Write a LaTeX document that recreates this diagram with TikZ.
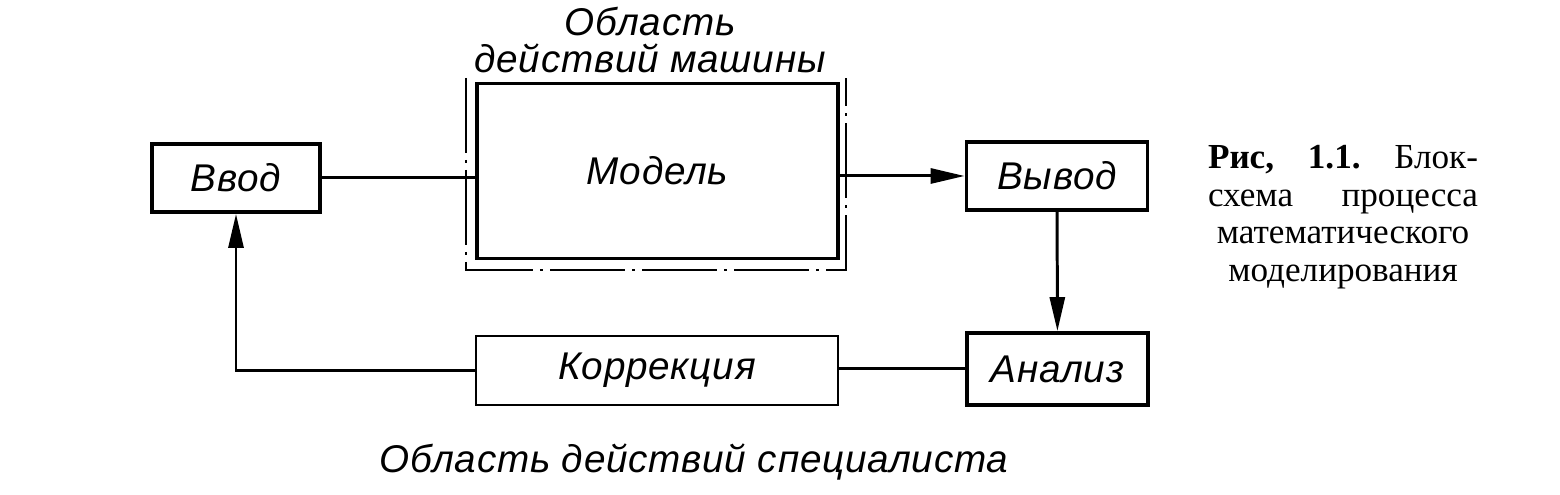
\documentclass[tikz,border=0pt]{standalone}
\usepackage{fontspec}
\setmainfont{Liberation Serif}
\newfontfamily\handfont[LetterSpace=2]{Liberation Sans}
\usetikzlibrary{arrows.meta}
\tikzset{
  hand/.style={font=\handfont\itshape\fontsize{11}{10.5}\selectfont},
  block/.style={draw, hand, line width=1.1pt, minimum height=0.68cm, inner sep=0pt},
  link/.style={line width=0.85pt},
  flow/.style={link, -{Triangle[length=3.4mm, width=1.5mm]}},
  machine/.style={line width=0.5pt, dash pattern=on 7.5mm off 0.7mm on 0.3mm off 0.7mm}
}
\begin{document}
\begin{tikzpicture}
      \useasboundingbox (0,0) rectangle (15.6,-4.95);
      \node[block, minimum width=1.68cm] (in) at (2.36,-1.78) {Ввод};
      \node[block, minimum width=3.61cm, minimum height=1.75cm] (model) at (6.575,-1.71) {Модель};
      \node[block, minimum width=1.81cm] (out) at (10.57,-1.76) {Вывод};
      \node[block, minimum width=1.81cm, minimum height=0.72cm] (an) at (10.575,-3.69) {Анализ};
      \node[block, minimum width=3.62cm, minimum height=0.69cm, line width=0.8pt] (corr) at (6.57,-3.705) {Коррекция};
      % area of the machine
      \draw[machine] (4.66,-0.78) -- (4.66,-2.70) -- (8.46,-2.70) -- (8.46,-0.78);
      \node[hand, align=center] (machinearea) at (6.50,-0.40) {Область\\действий машины};
      \node[hand] (specarea) at (6.94,-4.62) {Область действий специалиста};
      \begin{scope}
        \draw[link] (in.east) -- (in.east -| model.west);
        \draw[flow] (model.east |- out.west) -- (out.west);
        \draw[flow] (out) -- (an);
        \draw[link] (an.west) -- (an.west -| corr.east);
        \draw[flow] (corr.west) -| (in);
      \end{scope}
      \node[font=\fontsize{10}{10.7}\selectfont, align=center] (caption) at (13.43,-2.17)
        {\hbox to 2.7cm{\textbf{Рис,}\hfill\textbf{1.1.}\hfill Блок-}\\
         \hbox to 2.7cm{схема\hfill процесса}\\
         математического\\
         моделирования};
    \end{tikzpicture}
\end{document}
